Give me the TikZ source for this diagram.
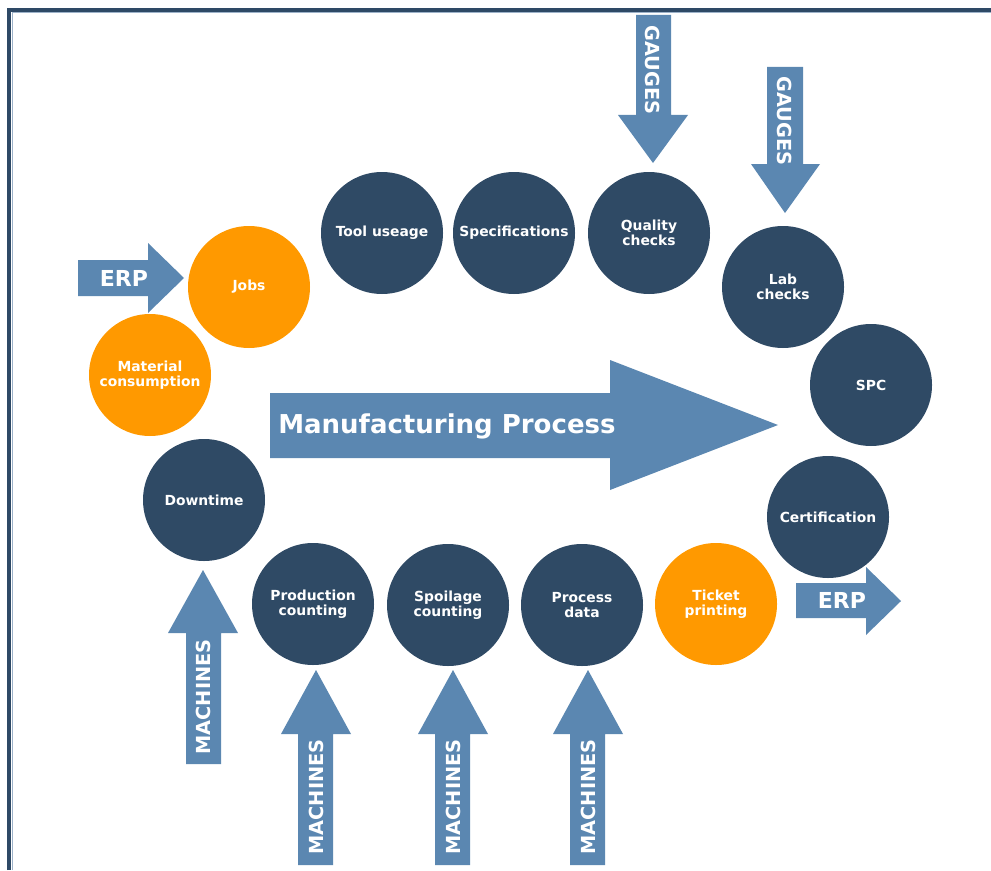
\documentclass[tikz,border=0pt]{standalone}
\usepackage{fontspec}
\setmainfont{DejaVu Sans}
\definecolor{darkc}{HTML}{2F4A65}
\definecolor{arr}{HTML}{5B87B1}
\definecolor{orng}{HTML}{FF9900}
\definecolor{framec}{HTML}{2E4966}
\definecolor{framel}{HTML}{9DB2C9}
\tikzset{
  circ/.style={circle, minimum size=91.5pt, inner sep=0pt, text=white, align=center,
    font=\bfseries\fontsize{10.4}{11.5}\selectfont},
  dk/.style={circ, fill=darkc},
  org/.style={circ, fill=orng},
  arrtxt/.style={text=white, inner sep=0pt, font=\bfseries\fontsize{14.5}{15}\selectfont},
  erptxt/.style={text=white, inner sep=0pt, font=\bfseries\fontsize{16.5}{17}\selectfont},
  bigtxt/.style={text=white, inner sep=0pt, font=\bfseries\fontsize{19.5}{20}\selectfont},
  blk/.style={fill=arr}
}
\begin{document}
\begin{tikzpicture}[x=0.75pt,y=-0.75pt]
\useasboundingbox (0,0) rectangle (991,870);
% frame
\draw[framel, line width=0.75pt] (12,870) -- (12,13) -- (991,13);
\draw[framec, line width=3pt, line join=miter] (9,870) -- (9,10) -- (991,10);

% block arrows
\fill[blk] (78,260) -- (148,260) -- (148,243) -- (184,278) -- (148,313) -- (148,296) -- (78,296) -- cycle;
\node[erptxt] (erpin) at (124,278) {ERP};
\fill[blk] (796,583) -- (866,583) -- (866,567) -- (901,601) -- (866,635) -- (866,618) -- (796,618) -- cycle;
\node[erptxt] (erpout) at (842,600) {ERP};
\fill[blk] (270,393) -- (610,393) -- (610,360) -- (778,425) -- (610,490) -- (610,458) -- (270,458) -- cycle;
\node[bigtxt, anchor=base west] (mp) at (278,433) {Manufacturing Process};

\fill[blk] (636,15) -- (671,15) -- (671,115) -- (688,115) -- (653,163) -- (618,115) -- (636,115) -- cycle;
\node[arrtxt, rotate=-90] (g1) at (653,70) {GAUGES};
\fill[blk] (767,67) -- (803,67) -- (803,164) -- (820,164) -- (785,213) -- (751,164) -- (767,164) -- cycle;
\node[arrtxt, rotate=-90] (g2) at (785,121) {GAUGES};

\fill[blk] (186,764) -- (186,633) -- (168,633) -- (203,570) -- (238,633) -- (221,633) -- (221,764) -- cycle;
\node[arrtxt, rotate=90] (m1) at (203,697) {MACHINES};
\fill[blk] (298,865) -- (298,734) -- (281,734) -- (316,670) -- (351,734) -- (333,734) -- (333,865) -- cycle;
\node[arrtxt, rotate=90] (m2) at (316,797) {MACHINES};
\fill[blk] (435,865) -- (435,734) -- (418,734) -- (453,670) -- (488,734) -- (470,734) -- (470,865) -- cycle;
\node[arrtxt, rotate=90] (m3) at (453,797) {MACHINES};
\fill[blk] (570,865) -- (570,734) -- (553,734) -- (588,670) -- (623,734) -- (605,734) -- (605,865) -- cycle;
\node[arrtxt, rotate=90] (m4) at (588,797) {MACHINES};

% circles
\node[org] (jobs) at (249,287) {Jobs};
\node[org] (mat) at (150,375) {Material\\consumption};
\node[dk] (down) at (204,500) {Downtime};
\node[dk] (tool) at (382,233) {Tool useage};
\node[dk] (spec) at (514,233) {Specifications};
\node[dk] (qual) at (649,233) {Quality\\checks};
\node[dk] (lab) at (783,287) {Lab\\checks};
\node[dk] (spc) at (871,385) {SPC};
\node[dk] (cert) at (828,517) {Certification};
\node[org] (tick) at (716,604) {Ticket\\printing};
\node[dk] (proc) at (582,605) {Process\\data};
\node[dk] (spoil) at (448,605) {Spoilage\\counting};
\node[dk] (prod) at (313,604) {Production\\counting};
\end{tikzpicture}
\end{document}
